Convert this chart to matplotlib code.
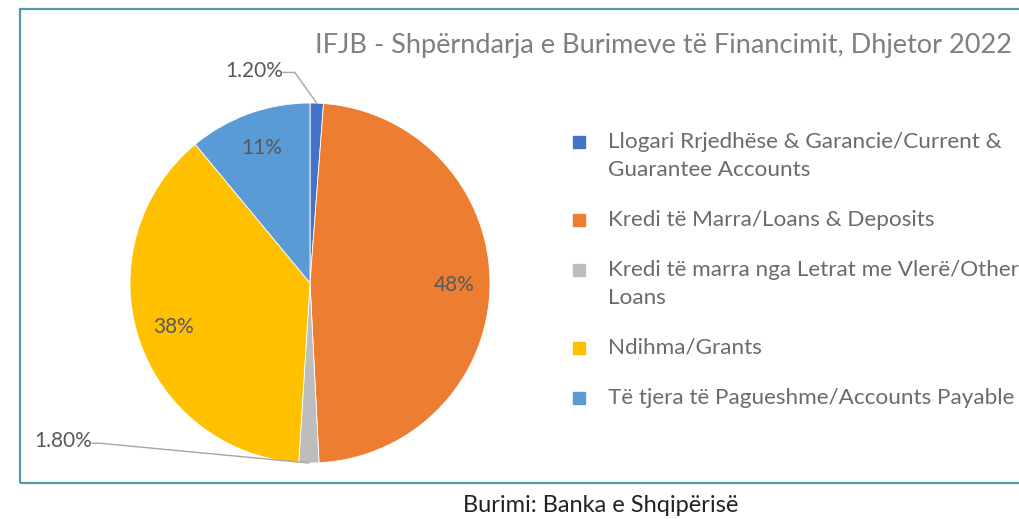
# IFJB pie chart - sources of funding, Dec 2022

import numpy as np
import matplotlib
matplotlib.use("Agg")
from matplotlib import pyplot as plt
from matplotlib.patches import Rectangle

plt.rcParams['font.family'] = ['Lato', 'DejaVu Sans']

categories = [
    "Llogari Rrjedhëse & Garancie/Current &\nGuarantee Accounts",
    "Kredi të Marra/Loans & Deposits",
    "Kredi të marra nga Letrat me Vlerë/Other\nLoans",
    "Ndihma/Grants",
    "Të tjera të Pagueshme/Accounts Payable",
]
values = [1.2, 48, 1.8, 38, 11]
pct_labels = ["1.20%", "48%", "1.80%", "38%", "11%"]
colors = ["#4472C4", "#ED7D31", "#BDBDBD", "#FFC000", "#5B9BD5"]

W, H = 1019, 519
fig = plt.figure(figsize=(W / 100, H / 100), dpi=100)

# outer frame (runs off the right edge like the original)
fig.patches.append(Rectangle((20 / W, 1 - 483 / H), 1010 / W, 474 / H,
                             transform=fig.transFigure, fill=False,
                             edgecolor="#4F9DAA", linewidth=1.6))

ax = fig.add_axes([130 / W, (236 - 180) / H, 360 / W, 360 / H])
wedges, _ = ax.pie(values, colors=colors, startangle=90, counterclock=False,
                   wedgeprops=dict(edgecolor="white", linewidth=0.6))
ax.set_xlim(-1, 1)
ax.set_ylim(-1, 1)
ax.set_aspect("equal")
ax.axis("off")

for i, w in enumerate(wedges):
    mid = np.deg2rad((w.theta1 + w.theta2) / 2)
    if values[i] > 5:
        ax.text(0.8 * np.cos(mid), 0.8 * np.sin(mid), pct_labels[i],
                ha="center", va="center", fontsize=15, color="#595959")

# small slices: label outside with an elbow leader line
# (text end x, text y, elbow x)
small = {0: (-0.15, 1.18, -0.085), 2: (-1.21, -0.88, -1.17)}
for i, (tx, ty, bx) in small.items():
    w = wedges[i]
    mid = np.deg2rad((w.theta1 + w.theta2) / 2)
    ex, ey = np.cos(mid), np.sin(mid)
    ax.plot([ex, bx, tx], [ey, ty - 0.01, ty - 0.01], color="#A6A6A6",
            lw=1, clip_on=False)
    ax.text(tx, ty, pct_labels[i], ha="right", va="center", fontsize=15,
            color="#595959")

# legend drawn by hand so the marker sits on the first line of each entry
y = 142
for lab, c in zip(categories, colors):
    fig.patches.append(Rectangle((573 / W, 1 - (y + 6) / H), 12 / W, 12 / H,
                                 transform=fig.transFigure, color=c))
    for line in lab.split("\n"):
        fig.text(608 / W, 1 - y / H, line, ha="left", va="center",
                 fontsize=16.2, color="#6B6B6B")
        y += 28
    y += 22

fig.text(1012 / W, 1 - 45 / H, "IFJB - Shpërndarja e Burimeve të Financimit, Dhjetor 2022",
         ha="right", va="center", fontsize=19.5, color="#7F7F7F")

fig.text(601 / W, 1 - 506 / H, "Burimi: Banka e Shqipërisë",
         ha="center", va="center", fontsize=17, color="#222222")

fig.savefig("out.png", dpi=100)
